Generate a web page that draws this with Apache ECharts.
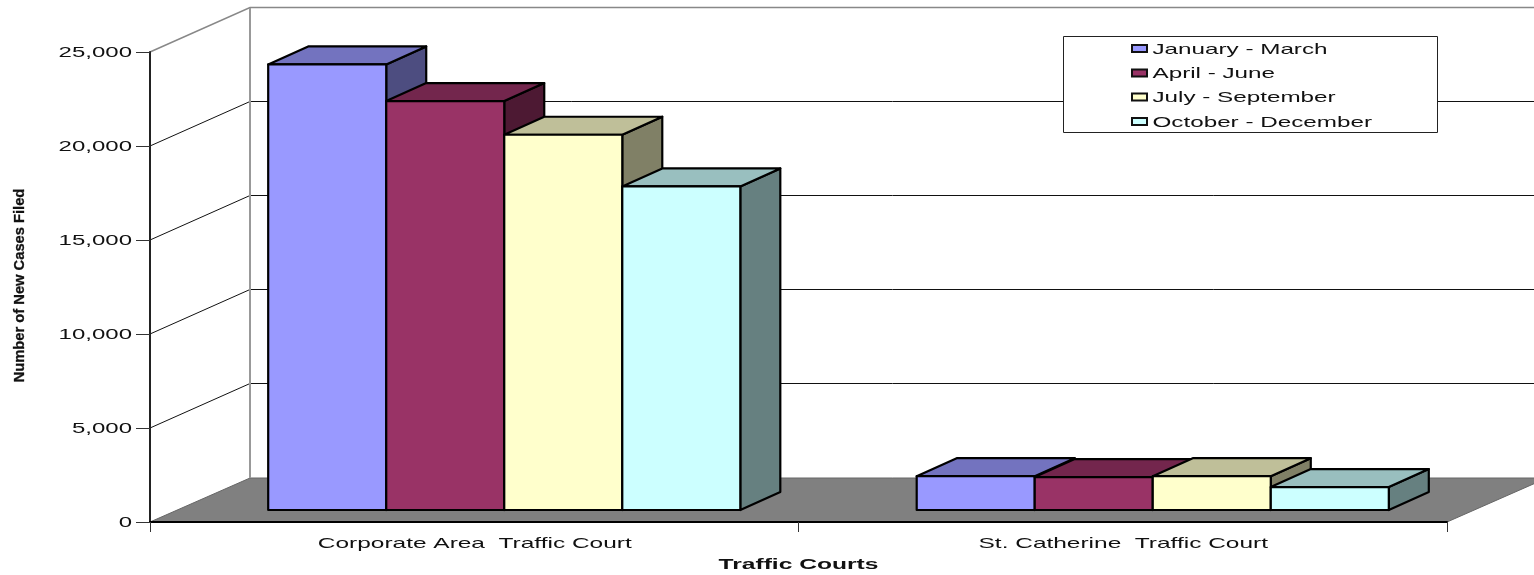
<!DOCTYPE html>
<html>
<head>
<meta charset="utf-8">
<style>html,body{margin:0;padding:0;background:#fff}#c{width:1534px;height:575px}</style>
<script src="https://cdn.jsdelivr.net/npm/echarts@6/dist/echarts.min.js"></script>
</head>
<body>
<div id="c"></div>
<script>
var categories = ['Corporate Area  Traffic Court', 'St. Catherine  Traffic Court'];
var janMar = [23700, 1800];
var aprJun = [21750, 1750];
var julSep = [19960, 1800];
var octDec = [17210, 1220];
var yTicks = [0, 5000, 10000, 15000, 20000, 25000];
var seriesNames = ['January - March', 'April - June', 'July - September', 'October - December'];
var frontColors = ['#9999FF', '#993366', '#FFFFCC', '#CCFFFF'];
var topColors = ['#7373BF', '#73264D', '#BFBF99', '#99BFBF'];
var sideColors = ['#4D4D80', '#4D1933', '#808066', '#668080'];
var seriesValues = [janMar, aprJun, julSep, octDec];

var FONT = '"Liberation Sans", Arial, sans-serif';
var WALL_DX = 100, WALL_DY = -44;
var BAR_DX = 40, BAR_DY = -18, BAR_X0 = 30, BAR_Y0 = -12, BAR_FRAC = 0.182;
var STRETCH = 1.6;

function stretched(text, x, y, size, align, weight, sx, sy) {
  return {
    type: 'text', x: x, y: y, scaleX: sx || STRETCH, scaleY: sy || 1, silent: true,
    style: { text: text, x: 0, y: 0, fill: '#111', font: (weight || 'normal') + ' ' + size + 'px ' + FONT, align: align, verticalAlign: 'middle' }
  };
}

function renderFrame(params, api) {
  var cs = params.coordSys, L = cs.x, R = cs.x + cs.width, base = cs.y + cs.height;
  var kids = [];
  var farRight = R + WALL_DX;
  // floor
  kids.push({ type: 'polygon', shape: { points: [[L, base], [R, base], [farRight, base + WALL_DY], [L + WALL_DX, base + WALL_DY]] },
    style: { fill: '#808080', stroke: '#666', lineWidth: 1 } });
  yTicks.forEach(function (v, i) {
    var y = api.coord([0, v])[1];
    var top = i === yTicks.length - 1;
    if (v > 0) {
      var col = top ? '#888' : '#111';
      kids.push({ type: 'polyline', shape: { points: [[L, y], [L + WALL_DX, y + WALL_DY - 0.5], [farRight, y + WALL_DY - 0.5]] },
        style: { fill: 'none', stroke: col, lineWidth: top ? 1.5 : 1 } });
    }
    kids.push(stretched(yTicks[i].toLocaleString('en-US'), 132, y + 0.5, 15, 'right'));
  });
  // back wall left edge
  var wallTop = api.coord([0, yTicks[yTicks.length - 1]])[1] + WALL_DY;
  kids.push({ type: 'line', shape: { x1: L + WALL_DX, y1: wallTop, x2: L + WALL_DX, y2: base + WALL_DY },
    style: { stroke: '#999', lineWidth: 2 } });
  // category labels
  categories.forEach(function (c, i) {
    var x = api.coord([i, 0])[0];
    kids.push(stretched(c, x + 0.5, 543.5, 15, 'center', 'normal', 1.63));
  });
  kids.push(stretched('Traffic Courts', 798.5, 564.5, 15, 'center', 'bold', 1.64));
  // y axis title
  kids.push({ type: 'text', x: 20, y: 285.5, rotation: Math.PI / 2, scaleX: 0.98, scaleY: 1, silent: true,
    style: { text: 'Number of New Cases Filed', x: 0, y: 0, fill: '#111', stroke: '#111', lineWidth: 0.3, font: 'bold 15px ' + FONT, align: 'center', verticalAlign: 'middle' } });
  return { type: 'group', children: kids };
}

function renderLegend(params, api) {
  var kids = [{ type: 'rect', shape: { x: 1063.5, y: 36.5, width: 374, height: 96 }, style: { fill: '#fff', stroke: '#222', lineWidth: 1 } }];
  var rows = [48.5, 73, 97, 121.5];
  seriesNames.forEach(function (n, i) {
    kids.push({ type: 'rect', shape: { x: 1132, y: rows[i] - 3.5, width: 15, height: 7 }, style: { fill: frontColors[i], stroke: '#111', lineWidth: 2 } });
    kids.push(stretched(n, 1152.5, rows[i] + 1, 15, 'left', 'normal', 1.615));
  });
  return { type: 'group', children: kids };
}

function makeBar(s) {
  return function (params, api) {
    var cat = api.value(0), v = api.value(1);
    var c = api.coord([cat, v]), b = api.coord([cat, 0]);
    var band = api.size([1, 0])[0], w = band * BAR_FRAC;
    var x0 = c[0] + BAR_X0 - 2 * w + s * w, x1 = x0 + w;
    var yT = c[1] + BAR_Y0, yB = b[1] + BAR_Y0;
    var line = { stroke: '#000', lineWidth: 2.2, lineJoin: 'round' };
    function st(fill) { return Object.assign({ fill: fill }, line); }
    return { type: 'group', children: [
      { type: 'polygon', shape: { points: [[x1, yT], [x1 + BAR_DX, yT + BAR_DY], [x1 + BAR_DX, yB + BAR_DY], [x1, yB]] }, style: st(sideColors[s]) },
      { type: 'polygon', shape: { points: [[x0, yT], [x0 + BAR_DX, yT + BAR_DY], [x1 + BAR_DX, yT + BAR_DY], [x1, yT]] }, style: st(topColors[s]) },
      { type: 'rect', shape: { x: x0, y: yT, width: w, height: yB - yT }, style: st(frontColors[s]) }
    ] };
  };
}

var series = [
  { type: 'custom', name: 'frame', z: 1, silent: true, renderItem: renderFrame, data: [[0, 0]], clip: false }
];
seriesNames.forEach(function (n, s) {
  series.push({ type: 'custom', name: n, z: 4 + s, silent: true, renderItem: makeBar(s), clip: false,
    data: seriesValues[s].map(function (v, i) { return [i, v]; }) });
});
series.push({ type: 'custom', name: 'legend', z: 10, silent: true, renderItem: renderLegend, data: [[0, 0]], clip: false });

var chart = echarts.init(document.getElementById('c'), null, { renderer: 'canvas' });
chart.setOption({
  animation: false,
  backgroundColor: '#fff',
  grid: { left: 150, right: 87, top: 52, bottom: 53, containLabel: false },
  xAxis: { type: 'category', data: categories, z: 3,
    axisLine: { show: true, lineStyle: { color: '#000', width: 2 } },
    axisTick: { show: true, length: 10, lineStyle: { color: '#333', width: 1 } },
    axisLabel: { show: false }, splitLine: { show: false } },
  yAxis: { type: 'value', min: 0, max: 25000, interval: 5000, z: 3,
    axisLine: { show: true, lineStyle: { color: '#222', width: 2 } },
    axisTick: { show: true, length: 14, lineStyle: { color: '#333', width: 1 } },
    axisLabel: { show: false }, splitLine: { show: false } },
  tooltip: { show: false },
  series: series
});
</script>
</body>
</html>
